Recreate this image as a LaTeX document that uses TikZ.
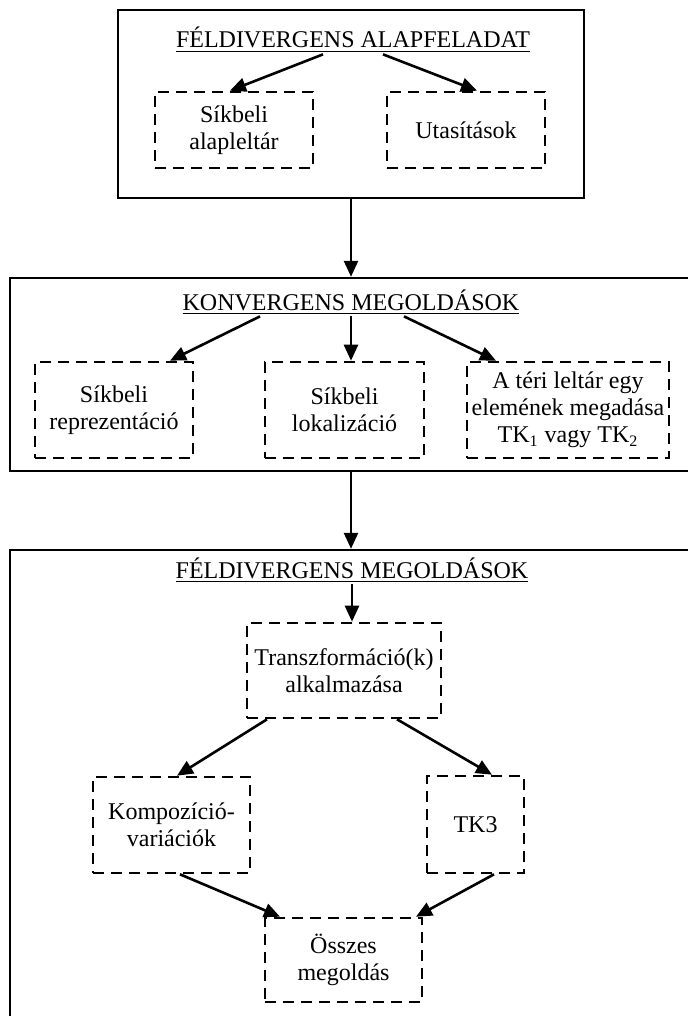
\documentclass[tikz,border=0pt]{standalone}
\usepackage{fontspec}
\setmainfont{Liberation Serif}
\usetikzlibrary{arrows.meta}

\begin{document}
\begin{tikzpicture}[x=0.5pt,y=-0.5pt,>={Triangle[length=8pt,width=7pt]},font=\fontsize{12}{13.5}\selectfont]
\tikzstyle{keret}=[draw,line width=1.2pt,inner sep=0pt]
\tikzstyle{cim}=[inner sep=0.8pt,anchor=base]
\tikzstyle{doboz}=[draw,line width=1.3pt,dash pattern=on 5.5pt off 3.5pt,align=center,inner sep=2pt,minimum height=48pt]
\tikzstyle{nyil}=[->,line width=1.3pt]
\useasboundingbox (0,0) rectangle (688,1016);
\clip (0,0) rectangle (688,1016);
\node[keret,minimum width=233pt,minimum height=94pt] (alap) at (351,104) {};
\node[keret,minimum width=345pt,minimum height=96.5pt] (konv) at (355,374.5) {};
\node[keret,minimum width=345pt,minimum height=240pt] (feld) at (355,790) {};
\node[cim] (t1) at (353,48) {\underline{FÉLDIVERGENS ALAPFELADAT}};
\node[cim] (k1) at (351,310) {\underline{KONVERGENS MEGOLDÁSOK}};
\node[cim] (f1) at (352,578) {\underline{FÉLDIVERGENS MEGOLDÁSOK}};
\node[doboz,minimum width=79pt,minimum height=38pt] (s1) at (234,130) {Síkbeli\\alapleltár};
\node[doboz,minimum width=79pt,minimum height=38pt] (s2) at (466,130) {Utasítások};
\foreach \n/\x/\w/\t in {m1/114/79pt/{Síkbeli\\reprezentáció},m2/344.5/79.5pt/{Síkbeli\\lokalizáció},m3/568/101pt/{A téri leltár egy\\elemének megadása\\TK\textsubscript{1} vagy TK\textsubscript{2}}} \node[doboz,minimum width=\w] (\n) at (\x,410) {\t};
\node[doboz,minimum width=97pt,minimum height=47.5pt] (tr) at (344,670.5) {Transzformáció(k)\\alkalmazása};
\node[doboz,minimum width=78.5pt] (ko) at (171.5,825) {Kompozíció-\\variációk};
\node[doboz,minimum width=48.5pt,minimum height=48.5pt] (tk) at (475.5,824.5) {TK3};
\node[doboz,minimum width=78.5pt,minimum height=42pt] (os) at (343.5,960) {Összes\\megoldás};
\draw[nyil] ([xshift=-15pt]t1.south) -- ([xshift=-2pt]s1.north);
\draw[nyil] ([xshift=15pt]t1.south) -- ([xshift=5.5pt]s2.north);
\draw[nyil] (alap.south) -- (alap.south |- konv.north);
\draw[nyil] ([xshift=-45.5pt]k1.south) -- ([xshift=28pt]m1.north);
\draw[nyil] (k1.south) -- (k1.south |- m2.north);
\draw[nyil] ([xshift=26.5pt]k1.south) -- ([xshift=-36pt]m3.north);
\draw[nyil] (konv.south -| k1.south) -- (feld.north -| k1.south);
\draw[nyil] (f1.south) -- (f1.south |- tr.north);
\draw[nyil] ([xshift=-38.5pt]tr.south) -- ([xshift=2.75pt]ko.north);
\draw[nyil] ([xshift=26.5pt]tr.south) -- ([xshift=8.25pt]tk.north);
\draw[nyil] ([xshift=4.25pt]ko.south) -- ([xshift=-31.75pt]os.north);
\draw[nyil] ([xshift=9.25pt]tk.south) -- ([xshift=36.25pt]os.north);
\end{tikzpicture}
\end{document}
